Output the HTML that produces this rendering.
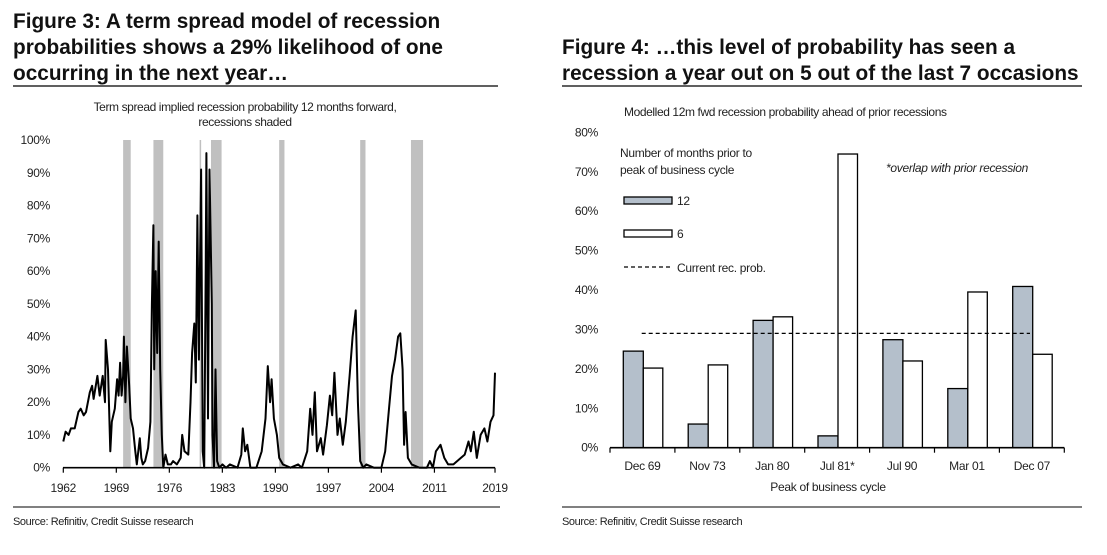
<!DOCTYPE html>
<html><head><meta charset="utf-8"><style>
body{margin:0;background:#fff;}
svg{display:block;font-family:"Liberation Sans",Arial,sans-serif;}
.t{font-weight:bold;font-size:20.8px;fill:#111;}
.s{font-size:12px;fill:#222;letter-spacing:-0.4px;}
.ax{font-size:12px;fill:#222;letter-spacing:-0.3px;}
</style></head><body>
<svg id="svg" width="1107" height="555" viewBox="0 0 1107 555">
<g>
<text class="t" x="13" y="28">Figure 3: A term spread model of recession</text>
<text class="t" x="13" y="54">probabilities shows a 29% likelihood of one</text>
<text class="t" x="13" y="80">occurring in the next year…</text>
</g>
<line x1="13" y1="86" x2="498" y2="86" stroke="#000" stroke-width="1.2"/>
<g>
<text class="t" x="562" y="54">Figure 4: …this level of probability has seen a</text>
<text class="t" x="562" y="80">recession a year out on 5 out of the last 7 occasions</text>
</g>
<line x1="562" y1="86" x2="1082" y2="86" stroke="#000" stroke-width="1.2"/>
<text class="s" x="245" y="111" text-anchor="middle">Term spread implied recession probability 12 months forward,</text>
<text class="s" x="245" y="126" text-anchor="middle">recessions shaded</text>
<text class="s" x="624" y="116">Modelled 12m fwd recession probability ahead of prior recessions</text>
<g id="left"></g>
<g id="right"></g>
<line x1="13" y1="507" x2="500" y2="507" stroke="#000" stroke-width="1"/>
<line x1="562" y1="507" x2="1082" y2="507" stroke="#000" stroke-width="1"/>
<text class="s" x="13" y="525" style="font-size:11px">Source: Refinitiv, Credit Suisse research</text>
<text class="s" x="562" y="525" style="font-size:11px">Source: Refinitiv, Credit Suisse research</text>
</svg>
<script>
const NS="http://www.w3.org/2000/svg";
const recStart=[1969.9,1973.9,1980.0,1981.5,1990.5,2001.2,2007.9];
const recEnd=[1970.9,1975.2,1980.2,1982.9,1991.2,2001.9,2009.5];
const lineYears=[1962.0,1962.3,1962.7,1963,1963.5,1964,1964.3,1964.7,1965,1965.5,1965.8,1966,1966.5,1966.8,1967.2,1967.5,1967.6,1967.9,1968.2,1968.4,1968.8,1969.1,1969.3,1969.5,1969.7,1969.9,1970.0,1970.2,1970.4,1970.7,1970.9,1971.2,1971.5,1971.7,1972.1,1972.3,1972.5,1972.8,1973.2,1973.5,1973.7,1973.9,1974.0,1974.2,1974.4,1974.6,1974.8,1975.0,1975.2,1975.5,1975.8,1976.2,1976.5,1977,1977.5,1977.7,1978,1978.5,1978.8,1979,1979.3,1979.5,1979.7,1979.9,1980.2,1980.4,1980.6,1980.8,1980.9,1981.1,1981.3,1981.6,1981.7,1981.9,1982.1,1982.3,1982.6,1983,1983.5,1984,1985,1985.5,1985.7,1986,1986.3,1986.7,1987.5,1988.2,1988.7,1989,1989.3,1989.5,1989.8,1990.2,1990.5,1991,1992,1993,1993.5,1994.2,1994.6,1994.9,1995.2,1995.5,1996,1996.3,1996.8,1997.2,1997.5,1997.8,1998.2,1998.5,1998.9,1999.3,1999.8,2000.2,2000.6,2000.9,2001.2,2001.6,2002,2003,2004,2004.5,2005,2005.4,2005.8,2006.2,2006.5,2006.8,2007,2007.2,2007.5,2008,2009,2010,2010.4,2010.8,2011.2,2011.8,2012.3,2012.8,2013.5,2014.5,2015,2015.5,2015.8,2016.2,2016.6,2017.1,2017.6,2018,2018.4,2018.8,2019.0];
const lineValues=[8,11,10,12,12,17,18,16,17,23,25,21,28,22,28,20,39,30,5,14,18,27,22,32,22,28,40,20,37,25,15,12,5,1,9,3,1,2,6,14,50,74,30,60,35,69,30,10,0,4,1,1,2,1,3,10,5,4,20,35,44,26,77,33,91,5,0,60,96,15,91,50,10,0,30,2,0,1,0,1,0,4,12,5,7,0,0,5,15,31,20,27,15,10,3,1,0,1,0,5,18,10,23,5,9,4,13,22,16,29,10,15,7,14,28,40,48,20,2,0,1,0,0,5,18,28,33,40,41,30,7,17,3,1,0,0,2,0,5,7,3,1,1,3,4,8,5,11,3,10,12,8,14,16,29];
const leftYTicks=[0,10,20,30,40,50,60,70,80,90,100];
const leftXTicks=[1962,1969,1976,1983,1990,1997,2004,2011,2019];
const categories=["Dec 69","Nov 73","Jan 80","Jul 81*","Jul 90","Mar 01","Dec 07"];
const series12=[24.5,6,32.3,3,27.4,15,40.9];
const series6=[20.2,21,33.2,74.5,22,39.5,23.7];
const currentProb=[29];
const rightYTicks=[0,10,20,30,40,50,60,70,80];

function mk(tag,attrs,parent,txt){const e=document.createElementNS(NS,tag);for(const k in attrs)e.setAttribute(k,attrs[k]);if(txt!==undefined)e.textContent=txt;parent.appendChild(e);return e;}
const L=document.getElementById('left');
const lx=y=>63.3+(y-1962)*7.574;
const ly=v=>467.7-v*3.277;
for(let i=0;i<recStart.length;i++){
 const r=mk('rect',{x:lx(recStart[i]),y:ly(100),width:lx(recEnd[i])-lx(recStart[i]),height:ly(0)-ly(100),fill:'#c0c0c0'},L);
 
 
}
for(const t of leftYTicks){
 const e=mk('text',{x:50,y:ly(t)+4,'text-anchor':'end',class:'ax'},L,t+'%');
 
 
}
const la=mk('line',{x1:63,y1:ly(0),x2:495,y2:ly(0),stroke:'#000','stroke-width':1.6},L);


for(const t of leftXTicks){
 mk('line',{x1:lx(t),y1:ly(0),x2:lx(t),y2:ly(0)+5,stroke:'#000','stroke-width':1.2},L);
 const e=mk('text',{x:lx(t),y:492,'text-anchor':'middle',class:'ax'},L,t);
 
 
}
const pts=lineYears.map((y,i)=>lx(y).toFixed(1)+','+ly(lineValues[i]).toFixed(1)).join(' ');
const pl=mk('polyline',{points:pts,fill:'none',stroke:'#000','stroke-width':2,'stroke-linejoin':'round'},L);


const R=document.getElementById('right');
const x0=610,cw=64.9;
const ry=v=>447.7-v*3.942;
for(const t of rightYTicks){
 const e=mk('text',{x:598,y:ry(t)+4,'text-anchor':'end',class:'ax'},R,t+'%');
 
 
}
categories.forEach((c,i)=>{
 const b1=mk('rect',{x:x0+i*cw+13.3,y:ry(series12[i]),width:20,height:ry(0)-ry(series12[i]),fill:'#b4bfcb',stroke:'#000','stroke-width':1.3},R);
 
 
 const b2=mk('rect',{x:x0+i*cw+33.3,y:ry(series6[i]),width:19.5,height:ry(0)-ry(series6[i]),fill:'#fff',stroke:'#000','stroke-width':1.3},R);
 
 
 const e=mk('text',{x:x0+i*cw+cw/2,y:470,'text-anchor':'middle',class:'ax'},R,c);
 
 
});
const ra=mk('line',{x1:x0,y1:ry(0),x2:x0+7*cw,y2:ry(0),stroke:'#000','stroke-width':1.6},R);


for(let i=0;i<=7;i++) mk('line',{x1:x0+i*cw,y1:ry(0),x2:x0+i*cw,y2:ry(0)+5,stroke:'#000','stroke-width':1.2},R);
const dl=mk('line',{x1:641.7,y1:ry(currentProb[0]),x2:1030,y2:ry(currentProb[0]),stroke:'#000','stroke-width':1.3,'stroke-dasharray':'4,3'},R);


const xt=mk('text',{x:828,y:491,'text-anchor':'middle',class:'ax'},R,'Peak of business cycle');


const lg=mk('g',{},R);


mk('text',{x:620,y:157,class:'ax'},lg,'Number of months prior to');
mk('text',{x:620,y:174,class:'ax'},lg,'peak of business cycle');
mk('rect',{x:624,y:197,width:48,height:7,fill:'#b4bfcb',stroke:'#000','stroke-width':1.3},lg);
mk('text',{x:677,y:205,class:'ax'},lg,'12');
mk('rect',{x:624,y:230,width:48,height:7,fill:'#fff',stroke:'#000','stroke-width':1.3},lg);
mk('text',{x:677,y:238,class:'ax'},lg,'6');
mk('line',{x1:624,y1:267,x2:672,y2:267,stroke:'#000','stroke-width':1.3,'stroke-dasharray':'4,3'},lg);
mk('text',{x:677,y:272,class:'ax'},lg,'Current rec. prob.');
const nt=mk('text',{x:886,y:172,class:'ax','font-style':'italic'},R,'*overlap with prior recession');


</script>
</body></html>
